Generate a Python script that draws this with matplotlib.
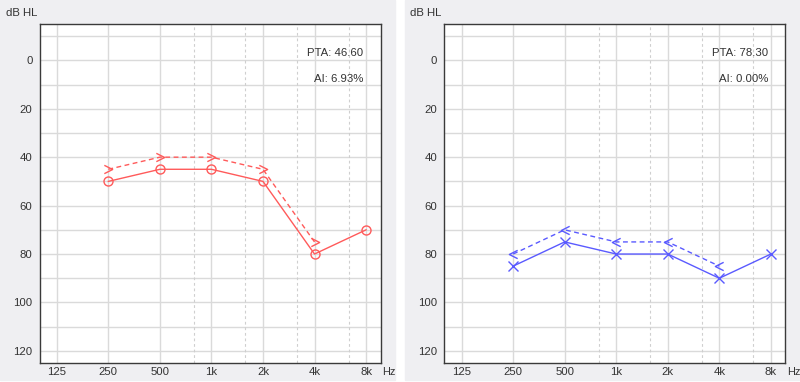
import matplotlib
matplotlib.use("Agg")
import matplotlib.pyplot as plt
import matplotlib.patches as mpatches
import numpy as np

# ── data ────────────────────────────────────────────────────────────────
TICK_LABELS = ["125", "250", "500", "1k", "2k", "4k", "8k"]
FREQS = ["250", "500", "1k", "2k", "4k", "8k"]

right_air = [50, 45, 45, 50, 80, 70]
right_bone = [45, 40, 40, 45, 75]
left_air = [85, 75, 80, 80, 90, 80]
left_bone = [80, 70, 75, 75, 85]

PTA = ["PTA: 46.60", "PTA: 78.30"]
AI = ["AI: 6.93%", "AI: 0.00%"]

# ── style ───────────────────────────────────────────────────────────────
RED = "#FF5A5A"
BLUE = "#5A5AFF"
GRID = "#DADADA"
PANEL_BG = "#EFEFF2"
FONT = dict(family="Liberation Sans", size=8.2, color="#333333")

CHEV_R = [(-1, 1), (1, 0), (-1, -1)]   # ">" open chevron
CHEV_L = [(1, 1), (-1, 0), (1, -1)]    # "<" open chevron

fig = plt.figure(figsize=(8, 3.82), dpi=100)

# panel backgrounds
fig.patches.append(mpatches.Rectangle((0, 2 / 382), 395 / 800, 380 / 382,
                                      transform=fig.transFigure, color=PANEL_BG, zorder=-5))
fig.patches.append(mpatches.Rectangle((405 / 800, 2 / 382), 395 / 800, 380 / 382,
                                      transform=fig.transFigure, color=PANEL_BG, zorder=-5))

axes_left = [39.5 / 800, 444.3 / 800]
panel_left = [0, 405 / 800]
w = 341 / 800
y0 = 19 / 382
h = 339 / 382


def idx(labels):
    return [TICK_LABELS.index(l) for l in labels]


def draw(ax, air, bone, color, air_marker, bone_marker, pta, ai):
    ax.set_facecolor("white")
    ax.set_xlim(-0.335, 6.28)
    ax.set_ylim(125, -15)

    # grid
    for y in range(-10, 121, 10):
        ax.axhline(y, color=GRID, lw=1, zorder=1)
    for x in range(len(TICK_LABELS)):
        ax.axvline(x, color=GRID, lw=1, zorder=1)
    for x in range(2, 6):
        ax.axvline(x + 0.66, color="#CFCFCF", lw=0.8, dashes=(2.5, 2.5), zorder=1)

    xa = idx(FREQS[:len(air)])
    xb = idx(FREQS[:len(bone)])
    ax.plot(xa, air, color=color, lw=1.0, marker=air_marker, ms=6.5,
            mfc="none", mec=color, mew=1.0, zorder=3)
    ax.plot(xb, bone, color=color, lw=1.0, dashes=(3.5, 2.5), marker=bone_marker,
            ms=6, mfc="none", mec=color, mew=1.0, zorder=3)

    ax.set_xticks(range(len(TICK_LABELS)))
    ax.set_xticklabels(TICK_LABELS)
    ax.set_yticks(range(0, 121, 20))
    ax.tick_params(length=0, labelsize=FONT["size"], labelcolor=FONT["color"])
    ax.tick_params(axis="x", pad=3)
    ax.tick_params(axis="y", pad=5)
    for lab in ax.get_xticklabels() + ax.get_yticklabels():
        lab.set_family(FONT["family"])

    for sp in ax.spines.values():
        sp.set_color("#3A3A3A")
        sp.set_linewidth(1.0)

    ax.text(0.949, 0.914, pta, transform=ax.transAxes, ha="right", va="center", **FONT)
    ax.text(0.949, 0.838, ai, transform=ax.transAxes, ha="right", va="center", **FONT)
    ax.text(1.006, -0.012, "Hz", transform=ax.transAxes, ha="left", va="top",
            family=FONT["family"], size=7.8, color=FONT["color"])


for i in range(2):
    ax = fig.add_axes([axes_left[i], y0, w, h])
    if i == 0:
        draw(ax, right_air, right_bone, RED, "o", CHEV_R, PTA[0], AI[0])
    else:
        draw(ax, left_air, left_bone, BLUE, "x", CHEV_L, PTA[1], AI[1])
    fig.text(panel_left[i] + 5.5 / 800, 1 - 12.5 / 382, "dB HL",
             ha="left", va="center", **FONT)

fig.savefig("out.png", dpi=100)
